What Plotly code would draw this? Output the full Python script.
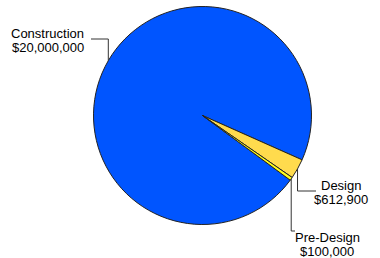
import math
import plotly.graph_objects as go

categories = ["Construction", "Design", "Pre-Design"]
values = [20000000, 612900, 100000]
value_labels = ["$20,000,000", "$612,900", "$100,000"]
colors = ["#0055FF", "#FFDB4D", "#FFFF1A"]

W, H = 380, 258
CX, CY, R = 202.5, 115.5, 109.0
ROTATION = 126.4

# label placement (pixel space): text anchor x, xanchor, first-line y, leader end x, leader y
label_pos = {
    "Construction": dict(tx=86, anchor="right", ty=33, lx=91, ly=39),
    "Design": dict(tx=341, anchor="center", ty=185, lx=316, ly=191),
    "Pre-Design": dict(tx=327, anchor="center", ty=237, lx=295, ly=231),
}

def px(x):
    return x / W

def py(y):
    return 1 - y / H

fig = go.Figure()
fig.add_trace(go.Pie(
    labels=categories, values=values, sort=False, direction="clockwise",
    rotation=ROTATION, textinfo="none", hoverinfo="label+value",
    marker=dict(colors=colors, line=dict(color="#222222", width=1)),
    domain=dict(x=[px(CX - R), px(CX + R)], y=[py(CY + R), py(CY - R)]),
    showlegend=False,
))

total = sum(values)
cum = 0.0
shapes = []
annotations = []
for cat, v, vl in zip(categories, values, value_labels):
    mid = cum + v / 2
    cum += v
    a = math.radians(ROTATION + mid / total * 360)
    ex = CX + R * math.sin(a)
    ey = CY - R * math.cos(a)
    p = label_pos[cat]
    path = f"M {px(ex)},{py(ey)} L {px(ex)},{py(p['ly'])} L {px(p['lx'])},{py(p['ly'])}"
    shapes.append(dict(type="path", xref="paper", yref="paper", path=path,
                       line=dict(color="#333333", width=1)))
    for i, t in enumerate([cat, vl]):
        annotations.append(dict(
            x=px(p["tx"]), y=py(p["ty"] + i * 14), xref="paper", yref="paper",
            text=t, showarrow=False, xanchor=p["anchor"], yanchor="middle",
            font=dict(family="Liberation Sans, Arial, sans-serif", size=13, color="#000000"),
        ))

fig.update_layout(
    width=W, height=H, margin=dict(l=0, r=0, t=0, b=0),
    paper_bgcolor="white", plot_bgcolor="white",
    shapes=shapes, annotations=annotations,
)

fig.write_html(
    "out.html",
    config={"displayModeBar": False},
    post_script="document.body.style.margin='0';document.body.style.overflow='hidden';",
)
